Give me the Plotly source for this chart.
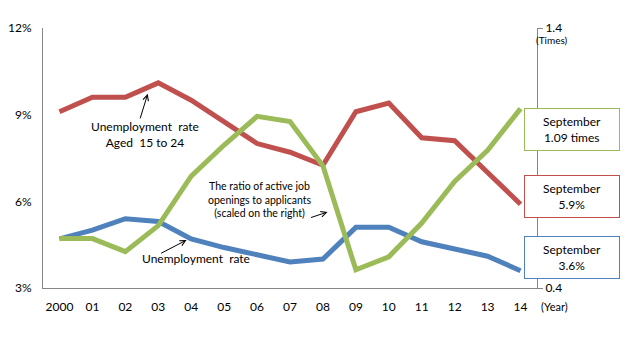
import plotly.graph_objects as go

years = ["2000", "01", "02", "03", "04", "05", "06", "07", "08", "09", "10", "11", "12", "13", "14"]
youth_rate = [9.1, 9.6, 9.6, 10.1, 9.5, 8.75, 8.0, 7.7, 7.25, 9.1, 9.4, 8.2, 8.1, 7.0, 5.9]
unemp_rate = [4.7, 5.0, 5.4, 5.3, 4.7, 4.4, 4.15, 3.9, 4.0, 5.1, 5.1, 4.6, 4.35, 4.1, 3.6]
job_ratio = [0.59, 0.59, 0.54, 0.64, 0.83, 0.95, 1.06, 1.04, 0.87, 0.47, 0.52, 0.65, 0.81, 0.93, 1.09]

pct_ticks = [3, 6, 9, 12]
pct_labels = ["3%", "6%", "9%", "12%"]
ratio_ticks = [0.4, 1.4]
ratio_labels = ["0.4", "1.4"]

RED = "#C0504D"
BLUE = "#4F81BD"
GREEN = "#9BBB59"
AXIS = "#868686"
FONT = "Lato"

fig = go.Figure()
fig.add_trace(go.Scatter(x=years, y=youth_rate, mode="lines",
                         line=dict(color=RED, width=5), yaxis="y"))
fig.add_trace(go.Scatter(x=years, y=unemp_rate, mode="lines",
                         line=dict(color=BLUE, width=5), yaxis="y"))
fig.add_trace(go.Scatter(x=years, y=job_ratio, mode="lines",
                         line=dict(color=GREEN, width=5), yaxis="y2"))

annotations = []

# Callout texts with arrows pointing at the series
def arrow(x, y, ax, ay, xref="x", yref="y"):
    annotations.append(dict(x=x, y=y, xref=xref, yref=yref, text="", showarrow=True,
                            ax=ax, ay=ay, arrowhead=5, arrowsize=1.1, arrowwidth=1,
                            arrowcolor="#000000"))

def label(x, y, text, size=12):
    annotations.append(dict(x=x, y=y, xref="x", yref="y", text=text, showarrow=False,
                            font=dict(size=size, color="#000000", family=FONT),
                            xanchor="center", yanchor="middle"))

label(2.59, 8.30, "Unemployment  rate<br>Aged  15 to 24", 12)
arrow(2.68, 9.72, -8, 26)
label(4.14, 4.01, "Unemployment  rate", 12)
arrow(3.86, 4.66, -27, 14)
label(6.08, 6.05, "The ratio of active job<br>openings to applicants<br>(scaled on the right)", 10.5)
arrow(8.14, 5.63, -18, 6)

# Latest-value boxes at the right edge
def box(ypaper, text, color):
    annotations.append(dict(x=1.071, y=ypaper, xref="paper", yref="paper", text=text,
                            showarrow=False, width=94, height=41, borderpad=0,
                            bordercolor=color, borderwidth=1, bgcolor="#FFFFFF",
                            font=dict(size=12, color="#000000", family=FONT),
                            xanchor="center", yanchor="middle", align="center"))

box(0.608, "September<br>1.09 times", GREEN)
box(0.352, "September<br>5.9%", RED)
box(0.117, "September<br>3.6%", BLUE)

# Unit labels
annotations.append(dict(x=1.03, y=0.955, xref="paper", yref="paper", text="(Times)",
                        showarrow=False, font=dict(size=10, color="#000000", family=FONT),
                        xanchor="center", yanchor="middle"))
annotations.append(dict(x=1.035, y=-0.07, xref="paper", yref="paper", text="(Year)",
                        showarrow=False, font=dict(size=11, color="#000000", family=FONT),
                        xanchor="center", yanchor="middle"))

fig.update_layout(
    width=638, height=344,
    margin=dict(l=43, r=101, t=28, b=56),
    paper_bgcolor="#FFFFFF", plot_bgcolor="#FFFFFF",
    showlegend=False,
    font=dict(family=FONT, size=12, color="#000000"),
    xaxis=dict(type="category", range=[-0.5, 14.5], showgrid=False, zeroline=False,
               showline=True, linecolor=AXIS, linewidth=1, ticks="", automargin=False,
               ticklabelstandoff=8, tickfont=dict(size=12)),
    yaxis=dict(range=[3, 12], tickmode="array", tickvals=pct_ticks, ticktext=pct_labels,
               showgrid=False, zeroline=False, showline=True, linecolor=AXIS, linewidth=1,
               ticks="", ticklabelstandoff=8, tickfont=dict(size=12), automargin=False),
    yaxis2=dict(range=[0.4, 1.4], tickmode="array", tickvals=ratio_ticks, ticktext=ratio_labels,
                overlaying="y", side="right", showgrid=False, zeroline=False, showline=True,
                linecolor=AXIS, linewidth=1, ticks="outside", ticklen=5, tickcolor=AXIS,
                tickfont=dict(size=12), automargin=False),
    annotations=annotations,
)

fig.write_html("out.html")
